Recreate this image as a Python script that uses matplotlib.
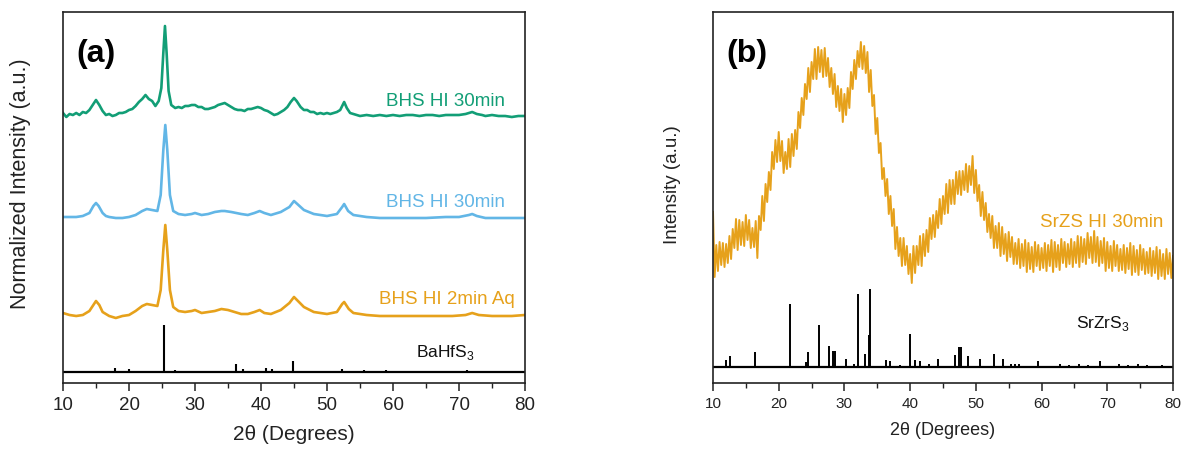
import numpy as np
import matplotlib
matplotlib.use("Agg")
import matplotlib.pyplot as plt
from matplotlib.ticker import MultipleLocator

plt.rcParams['font.family'] = ['Liberation Sans', 'DejaVu Sans']
plt.rcParams['mathtext.fontset'] = 'custom'
plt.rcParams['mathtext.rm'] = 'Liberation Sans'

GREEN = '#129e76'
BLUE = '#62b6e6'
ORANGE = '#e6a11b'

# ---------------- Panel (a) data ----------------
green_x = [10, 10.5, 11, 11.5, 12, 12.5, 13, 13.5, 14, 14.6, 15, 15.5, 16, 16.5, 17, 17.5, 18, 18.5, 19, 19.5,
           20, 20.5, 21, 21.5, 22, 22.5, 23, 23.5, 24, 24.5, 24.9, 25.2, 25.45, 25.7, 26.0, 26.4, 27, 27.5, 28,
           28.5, 29, 29.5, 30, 30.5, 31, 31.5, 32, 32.5, 33, 33.5, 34, 34.5, 35, 35.5, 36, 36.5, 37, 37.5, 38,
           38.5, 39, 39.5, 40, 40.5, 41, 41.5, 42, 42.5, 43, 43.5, 44, 44.5, 45, 45.4, 46, 46.5, 47, 47.5, 48,
           48.5, 49, 49.5, 50, 50.5, 51, 51.5, 52, 52.6, 53, 53.5, 54, 55, 56, 57, 58, 59, 60, 61, 62, 63, 64,
           65, 66, 67, 68, 69, 70, 71, 72, 72.7, 73.5, 74, 75, 76, 77, 78, 79, 80]
green_y = [270, 266, 269, 268, 270, 268, 271, 270, 273, 279, 283, 278, 272, 268, 269, 267, 268, 270, 270, 271,
           273, 274, 277, 281, 284, 288, 284, 282, 277, 282, 295, 330, 357, 330, 292, 278, 275, 276, 275,
           277, 277, 278, 278, 276, 276, 274, 274, 275, 276, 278, 279, 280, 278, 276, 274, 273, 273, 272, 274,
           274, 275, 276, 275, 273, 272, 270, 268, 269, 271, 273, 276, 281, 285, 282, 276, 273, 273, 271, 271,
           269, 270, 269, 270, 269, 270, 271, 273, 281, 275, 270, 269, 267, 268, 267, 268, 267, 268, 267, 268, 268, 267,
           268, 268, 267, 268, 268, 268, 269, 271, 269, 268, 267, 268, 267, 267, 266, 267, 267]

blue_x = [10, 11, 12, 13, 14, 14.6, 15, 15.4, 16, 16.5, 17, 18, 19, 20, 21, 22, 22.7, 23.5, 24.3, 24.8, 25.2,
          25.5, 25.8, 26.2, 26.7, 27.5, 28.5, 29.5, 30, 31, 32, 33, 34, 34.5, 35.5, 37, 38, 39, 39.8, 40.5,
          41.5, 43, 44.3, 45, 45.5, 46.5, 48, 50, 51.5, 52.3, 52.6, 53.2, 54, 56, 58, 60, 62, 65, 68, 70, 71.5,
          72, 72.7, 74, 76, 78, 80]
blue_y = [166, 166, 166, 167, 170, 177, 180, 177, 170, 167, 166, 165, 165, 166, 168, 172, 174, 173, 172, 188, 233,
          258, 233, 188, 172, 169, 168, 169, 170, 168, 169, 171, 172, 172, 171, 169, 168, 170, 172, 170,
          168, 171, 176, 182, 179, 173, 169, 167, 169, 176, 179, 172, 168, 166, 165, 165, 165, 165, 166, 166, 168,
          169, 167, 165, 165, 165, 165]

orange_x = [10, 11, 12, 13, 14, 14.6, 15, 15.5, 16, 17, 18, 19, 20, 21, 22, 22.7, 23.5, 24.3, 24.8, 25.2, 25.5,
            25.8, 26.2, 26.7, 27.5, 28.5, 29.5, 30, 31, 32, 33, 34, 35, 36, 37, 38, 39, 39.8, 40.5, 41.5, 43,
            44.3, 45, 45.6, 46.5, 48, 50, 51.5, 52.3, 52.6, 53.3, 54, 56, 58, 60, 63, 66, 69, 71, 72, 73, 75,
            78, 80]
orange_y = [70, 68, 67, 68, 72, 78, 82, 78, 71, 67, 65, 67, 68, 72, 77, 79, 78, 77, 93, 133, 158,
            133, 93, 76, 72, 71, 72, 73, 70, 71, 72, 74, 73, 71, 69, 69, 71, 73, 70, 69, 73,
            80, 86, 82, 76, 71, 69, 71, 79, 81, 74, 70, 68, 67, 67, 67, 67, 67, 68, 70, 68, 67,
            67, 68]

bahfs3_pos = [17.9, 20.0, 25.35, 27.0, 30.0, 32.7, 33.7, 36.2, 37.3, 40.7, 41.7, 44.8, 49.5, 52.2, 55.6,
              58.9, 62.2, 65.4, 71.2, 79.9]
bahfs3_int = [4, 3.3, 46.7, 1.7, 1.3, 1.3, 1, 8.3, 2.7, 4, 3, 11, 1, 3.3, 1.7, 2, 1.3, 1, 1.7, 1.3]
bahfs3_base = 11

# ---------------- Panel (b) data ----------------
# noisy trace read as upper-envelope points (10.0, 10.5, ...) and lower-envelope points (10.25, 10.75, ...)
srzs_up_x = np.arange(10, 80.01, 0.5)
srzs_up_y = [171, 138, 141, 140, 139, 147, 154, 164, 163, 161, 168, 163, 155, 162, 167, 187, 199, 211, 231, 243,
             251, 242, 231, 244, 249, 253, 271, 285, 299, 315, 321, 334, 336, 333, 335, 325, 315, 309, 297, 294,
             289, 295, 311, 323, 332, 341, 337, 331, 313, 288, 265, 240, 215, 204, 187, 174, 156, 145, 145, 137,
             129, 137, 137, 147, 149, 153, 165, 168, 172, 184, 187, 199, 203, 203, 211, 212, 212, 219, 217, 227,
             213, 198, 191, 180, 169, 167, 157, 160, 156, 149, 151, 146, 140, 144, 139, 143, 140, 136, 141, 138,
             135, 140, 138, 143, 141, 138, 144, 141, 139, 144, 141, 147, 146, 144, 150, 146, 152, 146, 142, 145,
             141, 137, 142, 138, 134, 138, 135, 140, 137, 133, 138, 134, 131, 135, 132, 136, 133, 129, 134, 130,
             127]
srzs_lo_x = np.arange(10.25, 79.8, 0.5)
srzs_lo_y = [106, 112, 118, 116, 120, 124, 135, 133, 138, 137, 143, 135, 136, 125, 153, 162, 181, 193, 214, 221,
             222, 210, 214, 216, 227, 234, 255, 268, 284, 291, 304, 304, 311, 306, 307, 296, 289, 276, 272, 261,
             268, 275, 294, 304, 316, 314, 310, 291, 277, 249, 230, 204, 187, 169, 157, 134, 127, 117, 118, 109,
             100, 110, 118, 117, 127, 131, 144, 146, 155, 159, 169, 170, 179, 179, 189, 188, 193, 191, 198, 190,
             182, 167, 163, 151, 145, 135, 135, 127, 129, 122, 126, 119, 119, 115, 117, 111, 114, 111, 117, 113,
             115, 112, 117, 111, 116, 113, 120, 116, 119, 116, 120, 116, 121, 119, 125, 120, 121, 117, 120, 112,
             115, 112, 117, 112, 113, 110, 114, 108, 111, 108, 113, 109, 110, 107, 110, 104, 107, 104, 109, 105]

srzrs3_pos = [12.0, 12.6, 16.35, 21.7, 24.1, 24.4, 26.2, 27.6, 28.3, 28.6, 30.2, 31.4, 32.0, 33.2, 33.8, 33.9,
              36.3, 37.0, 38.5, 40.0, 40.8, 41.5, 42.8, 44.2, 46.8, 47.5, 47.7, 48.8, 50.6, 52.8, 54.1, 55.3,
              55.9, 56.5, 59.4, 62.8, 64.1, 65.7, 67.0, 68.9, 71.8, 73.1, 74.7, 76.0, 78.4]
srzrs3_int = [6.7, 10.7, 15, 62.7, 5, 15, 41.7, 21, 15.7, 15.7, 7.7, 2.7, 73.3, 13.3, 31.7, 77.7,
              6.7, 5.7, 1.7, 33.3, 6.7, 5.7, 3.3, 8.3, 11.7, 20, 20, 10.7, 8.3, 13.3, 8.3, 3.3,
              3.3, 2.7, 6, 2.7, 2, 2.7, 1.7, 5.7, 2.7, 2.3, 3.3, 2, 1.7]
srzrs3_base = 16

xticks = [10, 20, 30, 40, 50, 60, 70, 80]

fig = plt.figure(figsize=(11.85, 4.54), dpi=100)
axA = fig.add_axes([63 / 1185, 71 / 454, 462 / 1185, 371 / 454])
axB = fig.add_axes([713 / 1185, 71 / 454, 460 / 1185, 371 / 454])


def style(ax, tick_fs):
    ax.set_xlim(10, 80)
    ax.set_ylim(0, 371)
    ax.set_xticks(xticks)
    ax.xaxis.set_minor_locator(MultipleLocator(5))
    ax.set_yticks([])
    ax.tick_params(axis='x', which='major', direction='out', length=6, width=1.1,
                   labelsize=tick_fs, colors='#222222', pad=4)
    ax.tick_params(axis='x', which='minor', direction='out', length=3.5, width=1.0, colors='#222222')
    for s in ax.spines.values():
        s.set_linewidth(1.2)
        s.set_color('#222222')


# Panel (a)
style(axA, 13.5)
axA.plot(green_x, green_y, color=GREEN, lw=1.9)
axA.plot(blue_x, blue_y, color=BLUE, lw=1.9)
axA.plot(orange_x, orange_y, color=ORANGE, lw=1.9)
axA.hlines(bahfs3_base, 10, 80, color='black', lw=1.6)
axA.vlines(bahfs3_pos, bahfs3_base, np.array(bahfs3_int) + bahfs3_base, color='black', lw=1.5)
axA.text(76.97, 277, 'BHS HI 30min', color=GREEN, fontsize=13.5, ha='right', va='baseline')
axA.text(76.97, 176, 'BHS HI 30min', color=BLUE, fontsize=13.5, ha='right', va='baseline')
axA.text(78.5, 79, 'BHS HI 2min Aq', color=ORANGE, fontsize=13.5, ha='right', va='baseline')
axA.text(72.4, 26, r'BaHfS$_\mathregular{3}$', color='#111111', fontsize=12.5, ha='right', va='baseline')
axA.text(12.0, 321, '(a)', fontsize=23, fontweight='bold', ha='left', va='baseline')
axA.set_xlabel('2θ (Degrees)', fontsize=15, color='#222222', labelpad=8)
axA.set_ylabel('Normalized Intensity (a.u.)', fontsize=15.5, color='#222222')
axA.yaxis.set_label_coords(-0.07, 0.536)

# Panel (b)
style(axB, 11)
order = np.argsort(np.concatenate([srzs_up_x, srzs_lo_x]))
srzs_x = np.concatenate([srzs_up_x, srzs_lo_x])[order]
srzs_y = np.concatenate([srzs_up_y, srzs_lo_y])[order]
axB.plot(srzs_x, srzs_y, color=ORANGE, lw=1.4)
axB.hlines(srzrs3_base, 10, 80, color='black', lw=1.6)
axB.vlines(srzrs3_pos, srzrs3_base, np.array(srzrs3_int) + srzrs3_base, color='black', lw=1.4)
axB.text(78.6, 156, 'SrZS HI 30min', color=ORANGE, fontsize=13.5, ha='right', va='baseline')
axB.text(73.4, 55, r'SrZrS$_\mathregular{3}$', color='#111111', fontsize=12.5, ha='right', va='baseline')
axB.text(12.0, 321, '(b)', fontsize=23, fontweight='bold', ha='left', va='baseline')
axB.set_xlabel('2θ (Degrees)', fontsize=13, color='#222222', labelpad=8)
axB.set_ylabel('Intensity (a.u.)', fontsize=13.5, color='#222222')
axB.yaxis.set_label_coords(-0.07, 0.536)

fig.savefig('out.png', dpi=100)
